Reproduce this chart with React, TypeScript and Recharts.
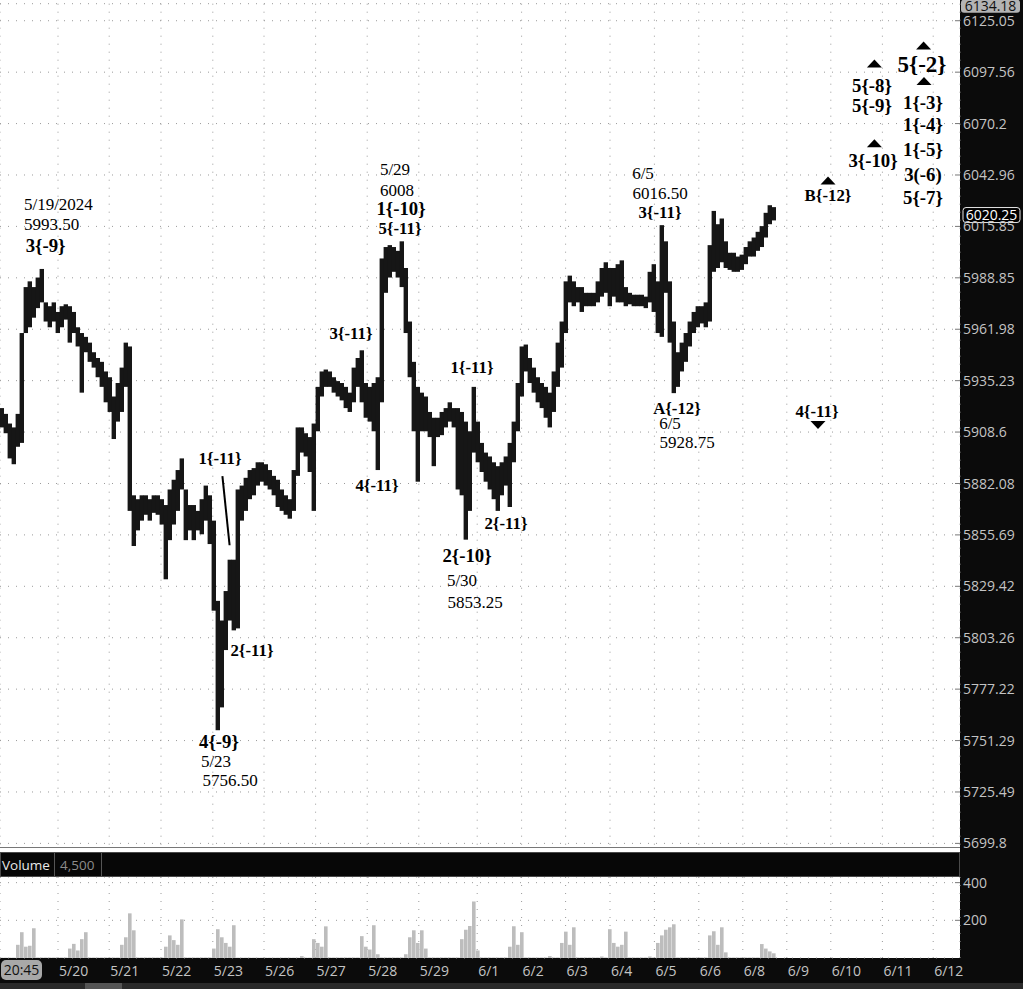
import React from "react";
import {
  ComposedChart,
  Bar,
  XAxis,
  YAxis,
  CartesianGrid,
  ReferenceDot,
  ReferenceLine,
} from "recharts";

// day boundaries on the bar-index axis
const DAYS = ["5/20", "5/21", "5/22", "5/23", "5/26", "5/27", "5/28", "5/29", "6/1", "6/2", "6/3", "6/4", "6/5", "6/6", "6/8", "6/9", "6/10", "6/11", "6/12"];
const DAY_POS = [14.5, 27.3, 40.25, 53.2, 66, 78.9, 91.8, 104.7, 119.3, 130.4, 141.4, 152.5, 163.6, 174.7, 185.7, 196.7, 207.7, 220.6, 233.3];

const PRICE_TICKS = [5699.8, 5725.49, 5751.29, 5777.22, 5803.26, 5829.42, 5855.69, 5882.08, 5908.6, 5935.23, 5961.98, 5988.85, 6015.85, 6042.96, 6070.2, 6097.56, 6125.05];
const PRICE_MIN = 5697.5;
const PRICE_TOP = 6134.18;
const LAST_PRICE = 6020.25;
const VOL_TICKS = [200, 400];

const HIGH = [
  5921, 5918, 5913, 5911, 5918, 5960, 5984, 5987, 5984, 5989,
  5993.5, 5976, 5974, 5976, 5971, 5974, 5975, 5974, 5971, 5963,
  5960, 5958, 5955, 5950, 5947, 5945, 5940, 5937, 5927, 5934,
  5942, 5955, 5953, 5876, 5874, 5876, 5876, 5874, 5876, 5876,
  5874, 5871, 5879, 5884, 5889, 5895, 5879, 5871, 5871, 5868,
  5874, 5881, 5876, 5863, 5822, 5812, 5827, 5843, 5843, 5879,
  5881, 5885, 5889, 5890, 5893, 5893, 5892, 5889, 5886, 5884,
  5879, 5876, 5874, 5889, 5911, 5911, 5908, 5906, 5913, 5932,
  5940, 5941, 5940, 5937, 5935, 5934, 5932, 5929, 5942, 5947,
  5951, 5934, 5932, 5934, 5937, 5999, 6005, 6006, 6005, 6003,
  6008, 5994, 5966, 5945, 5932, 5929, 5927, 5919, 5916, 5916,
  5919, 5921, 5924, 5921, 5921, 5919, 5914, 5909, 5932, 5914,
  5903, 5898, 5896, 5893, 5891, 5893, 5896, 5903, 5914, 5934,
  5953, 5954, 5947, 5942, 5937, 5934, 5932, 5929, 5940, 5955,
  5966, 5987, 5990, 5987, 5984, 5984, 5981, 5981, 5981, 5987,
  5994, 5997, 5994, 5994, 5996, 5998, 5984, 5981, 5980, 5980,
  5980, 5979, 5992, 5996, 5987, 6016.5, 6008, 5987, 5966, 5950,
  5955, 5960, 5966, 5971, 5974, 5974, 5976, 6006, 6024, 6017,
  6020, 6008, 6002, 6002, 6000, 6001, 6005, 6008, 6010, 6013,
  6016, 6023, 6027, 6026,
];

const LOW = [
  5911, 5908, 5895, 5892, 5901, 5903, 5960, 5963, 5968, 5973,
  5976, 5966, 5963, 5966, 5960, 5963, 5967, 5955, 5960, 5953,
  5929, 5950, 5945, 5942, 5937, 5932, 5924, 5919, 5905, 5914,
  5919, 5932, 5868, 5850, 5858, 5863, 5866, 5863, 5867, 5866,
  5861, 5833, 5853, 5861, 5868, 5879, 5853, 5858, 5853, 5858,
  5856, 5863, 5851, 5817, 5756.5, 5768, 5797, 5812, 5807, 5808,
  5863, 5868, 5874, 5876, 5881, 5883, 5881, 5879, 5876, 5870,
  5868, 5866, 5864, 5868, 5886, 5898, 5896, 5888, 5868, 5909,
  5927, 5932, 5932, 5929, 5927, 5925, 5921, 5919, 5924, 5932,
  5924, 5916, 5914, 5909, 5889, 5924, 5981, 5989, 5992, 5989,
  5984, 5960, 5937, 5909, 5883, 5909, 5909, 5906, 5891, 5906,
  5907, 5911, 5914, 5911, 5879, 5876, 5853.25, 5868, 5898, 5893,
  5888, 5883, 5879, 5874, 5868, 5876, 5881, 5870, 5893, 5909,
  5927, 5940, 5934, 5929, 5924, 5921, 5916, 5911, 5919, 5932,
  5942, 5960, 5976, 5974, 5976, 5971, 5974, 5974, 5974, 5976,
  5979, 5981, 5974, 5979, 5976, 5976, 5974, 5975, 5974, 5974,
  5974, 5973, 5976, 5971, 5960, 5958, 5981, 5955, 5928.75, 5932,
  5940, 5945, 5953, 5960, 5963, 5965, 5963, 5966, 5992, 5994,
  5997, 5994, 5993, 5992, 5992, 5993, 5996, 6000, 6000, 6003,
  6005, 6010, 6017, 6019,
];

const VOLUME = [
  2, 2, 2, 2, 70, 137, 60, 65, 158, 3,
  3, 3, 3, 3, 3, 3, 3, 50, 75, 40,
  100, 137, 3, 3, 3, 3, 3, 3, 3, 3,
  70, 110, 237, 147, 3, 3, 3, 3, 3, 3,
  3, 60, 120, 95, 70, 205, 3, 3, 3, 3,
  3, 3, 3, 50, 153, 110, 80, 60, 174, 2,
  2, 2, 2, 2, 2, 2, 2, 2, 2, 2,
  2, 2, 2, 2, 2, 10, 2, 2, 100, 80,
  60, 168, 3, 3, 3, 3, 3, 3, 3, 3,
  116, 60, 45, 174, 20, 3, 3, 3, 3, 3,
  3, 20, 110, 147, 80, 147, 50, 3, 3, 3,
  3, 3, 3, 3, 3, 100, 150, 170, 300, 40,
  3, 3, 3, 3, 3, 3, 3, 60, 168, 70,
  137, 3, 3, 3, 3, 3, 3, 10, 3, 3,
  80, 140, 70, 163, 3, 3, 3, 3, 3, 3,
  8, 3, 153, 80, 60, 70, 140, 3, 3, 3,
  3, 3, 8, 3, 80, 120, 150, 163, 179, 3,
  3, 3, 3, 3, 3, 3, 3, 120, 142, 70,
  163, 30, 3, 3, 3, 3, 3, 3, 3, 3,
  74, 50, 35, 25,
];

// wave labels: text, bar index, price
const NOTES: [string, number, number][] = [
  ["5/19/2024", 14.6, 6027.6],
  ["5993.50", 12.9, 6016.8],
  ["3{-9}", 11.4, 6006.0],
  ["1{-11}", 55.0, 5895.2],
  ["2{-11}", 63.0, 5797.0],
  ["4{-9}", 54.75, 5751.0],
  ["5/23", 54.0, 5740.9],
  ["5756.50", 57.5, 5731.4],
  ["5/29", 98.75, 6045.6],
  ["6008", 99.25, 6035.0],
  ["1{-10}", 100.25, 6025.5],
  ["5{-11}", 100, 6015.0],
  ["3{-11}", 87.75, 5960.0],
  ["4{-11}", 94.25, 5881.2],
  ["1{-11}", 118, 5942.3],
  ["2{-11}", 126.5, 5861.7],
  ["2{-10}", 116.75, 5845.3],
  ["5/30", 115.5, 5832.6],
  ["5853.25", 118.75, 5821.4],
  ["6/5", 160.75, 6044.0],
  ["6016.50", 165, 6033.4],
  ["3{-11}", 165, 6023.4],
  ["A{-12}", 169.25, 5921.0],
  ["6/5", 167.5, 5913.2],
  ["5928.75", 171.75, 5903.4],
  ["B{-12}", 207, 6032.0],
  ["4{-11}", 204.25, 5919.4],
  ["3{-10}", 218.25, 6050.5],
  ["5{-8}", 218, 6090.3],
  ["5{-9}", 218, 6080.0],
  ["5{-2}", 230.5, 6101.9],
  ["1{-3}", 230.75, 6081.4],
  ["1{-4}", 230.75, 6069.9],
  ["1{-5}", 230.75, 6056.6],
  ["3(-6)", 230.75, 6043.4],
  ["5{-7}", 230.75, 6031.0],
];

const MARKS_UP: [number, number][] = [
  [207, 6040.1],
  [218.6, 6059.7],
  [218.6, 6102.2],
  [230.9, 6111.8],
  [231, 6092.8],
];
const MARKS_DOWN: [number, number][] = [[204.5, 5912.2]];
const TREND_LINE = [
  { x: 55.6, y: 5885.9 },
  { x: 57.4, y: 5850.4 },
];

const data = HIGH.map((h, i) => ({ t: i + 0.5, range: [LOW[i], h], vol: VOLUME[i] }));

const AXIS_TEXT = "#c4c4c4";
const SANS = "'Open Sans', 'Noto Sans', sans-serif";
const SERIF = "'Liberation Serif', 'DejaVu Serif', serif";

function noteStyle(text: string) {
  const m = text.match(/[{(]-(\d+)[})]/);
  if (!m) return { size: 17, weight: 400 };
  const deg = Number(m[1]);
  return { size: deg <= 2 ? 23 : deg >= 11 ? 16.8 : 18.8, weight: 700 };
}

// range bar widened to close the gaps recharts leaves between adjacent bars
const PriceBar = (p: any) => {
  if (p.height == null || p.width == null) return null;
  const cx = p.x + p.width / 2;
  return <rect x={cx - 2.2} y={p.y} width={4.4} height={Math.max(p.height, 1)} fill="#161616" />;
};

const ScaleTick = (props: any) => {
  const { x, y, payload } = props;
  return (
    <g>
      <line x1={x - 5} x2={x} y1={y} y2={y} stroke="#777" />
      <text x={x + 3} y={y} dy="0.36em" fill={AXIS_TEXT} fontSize={14} fontFamily={SANS}>
        {payload.value}
      </text>
    </g>
  );
};

const DayTick = (props: any) => {
  const { x, y, payload } = props;
  const idx = DAY_POS.indexOf(payload.value);
  return (
    <text x={x + 1} y={y + 13} dy="0.36em" fill={AXIS_TEXT} fontSize={14} fontFamily={SANS}>
      {DAYS[idx]}
    </text>
  );
};

export default function App() {
  return (
    <div
      style={{
        position: "absolute",
        left: 0,
        top: 0,
        width: 1023,
        height: 989,
        background: "#fff",
        overflow: "hidden",
        fontFamily: SANS,
      }}
    >
      {/* right price scale panel */}
      <div style={{ position: "absolute", left: 960, top: 0, width: 63, height: 989, background: "#0b0b0b" }} />

      <div style={{ position: "absolute", left: 0, top: 0 }}>
        <ComposedChart width={1023} height={848} data={data} margin={{ top: 3.7, right: 0, bottom: 0, left: 0 }}>
          <CartesianGrid stroke="#9a9a9a" strokeDasharray="1 7" />
          <XAxis
            type="number"
            dataKey="t"
            domain={[0, 240]}
            ticks={DAY_POS}
            interval={0}
            allowDataOverflow
            hide
          />
          <YAxis
            orientation="right"
            scale="log"
            domain={[PRICE_MIN, PRICE_TOP]}
            ticks={PRICE_TICKS}
            interval={0}
            allowDataOverflow
            width={63}
            tickSize={0}
            tickMargin={0}
            tickLine={false}
            axisLine={false}
            tick={<ScaleTick />}
          />
          <Bar dataKey="range" fill="#161616" barSize={4} shape={<PriceBar />} isAnimationActive={false} />
          <ReferenceLine segment={TREND_LINE} stroke="#000" strokeWidth={2} ifOverflow="visible" />
          {NOTES.map(([text, x, y], i) => {
            const s = noteStyle(text);
            return (
              <ReferenceDot
                key={"n" + i}
                x={x}
                y={y}
                r={0}
                ifOverflow="visible"
                shape={(p: any) => (
                  <text
                    x={p.cx}
                    y={p.cy}
                    textAnchor="middle"
                    dominantBaseline="central"
                    fontFamily={SERIF}
                    fontSize={s.size}
                    fontWeight={s.weight}
                    fill="#000"
                  >
                    {text}
                  </text>
                )}
              />
            );
          })}
          {MARKS_UP.map(([x, y], i) => (
            <ReferenceDot
              key={"u" + i}
              x={x}
              y={y}
              r={0}
              ifOverflow="visible"
              shape={(p: any) => (
                <path d={`M${p.cx - 7.5},${p.cy + 4}L${p.cx},${p.cy - 4}L${p.cx + 7.5},${p.cy + 4}Z`} fill="#000" />
              )}
            />
          ))}
          {MARKS_DOWN.map(([x, y], i) => (
            <ReferenceDot
              key={"d" + i}
              x={x}
              y={y}
              r={0}
              ifOverflow="visible"
              shape={(p: any) => (
                <path d={`M${p.cx - 7.5},${p.cy - 4}L${p.cx},${p.cy + 4}L${p.cx + 7.5},${p.cy - 4}Z`} fill="#000" />
              )}
            />
          ))}
          <ReferenceDot
            x={240}
            y={PRICE_TOP}
            r={0}
            ifOverflow="visible"
            shape={(p: any) => (
              <g>
                <rect x={p.cx + 1} y={p.cy - 4} width={59} height={13} rx={3} fill="#b4b4b4" />
                <text x={p.cx + 30.5} y={p.cy + 2.5} dy="0.36em" textAnchor="middle" fontSize={14} fontFamily={SANS} fill="#111">
                  {PRICE_TOP}
                </text>
              </g>
            )}
          />
          <ReferenceDot
            x={240}
            y={LAST_PRICE}
            r={0}
            ifOverflow="visible"
            shape={(p: any) => (
              <g>
                <rect x={p.cx + 3} y={p.cy - 10.5} width={57} height={15} rx={3} fill="#000" stroke="#e6e6e6" />
                <text x={p.cx + 31.5} y={p.cy - 3} dy="0.36em" textAnchor="middle" fontSize={14} fontFamily={SANS} fill="#fff">
                  {LAST_PRICE}
                </text>
              </g>
            )}
          />
        </ComposedChart>
      </div>

      {/* panel separator and volume header */}
      <div style={{ position: "absolute", left: 0, top: 847, width: 960, height: 1, background: "#777" }} />
      <div
        style={{
          position: "absolute",
          left: 0,
          top: 852,
          width: 960,
          height: 25,
          background: "#070707",
          border: "1px solid #4a4a4a",
          boxSizing: "border-box",
        }}
      >
        <span style={{ position: "absolute", left: 1, top: 3, fontSize: 13.5, color: "#e8e8e8" }}>Volume</span>
        <div style={{ position: "absolute", left: 53, top: 0, width: 1, height: 23, background: "#555" }} />
        <span style={{ position: "absolute", left: 59, top: 3, fontSize: 13.5, color: "#8c8c8c" }}>4,500</span>
        <div style={{ position: "absolute", left: 100, top: 0, width: 1, height: 23, background: "#555" }} />
      </div>

      {/* time axis band */}
      <div style={{ position: "absolute", left: 0, top: 958, width: 1023, height: 31, background: "#0b0b0b" }} />
      <div style={{ position: "absolute", left: 0, top: 983, width: 1023, height: 6, background: "#2a2a2a" }} />
      <div style={{ position: "absolute", left: 85, top: 983, width: 37, height: 6, background: "#555" }} />

      <div style={{ position: "absolute", left: 0, top: 877 }}>
        <ComposedChart width={1023} height={108} data={data} margin={{ top: 0, right: 0, bottom: 0, left: 0 }}>
          <CartesianGrid stroke="#9a9a9a" strokeDasharray="1 7" />
          <XAxis
            type="number"
            dataKey="t"
            domain={[0, 240]}
            ticks={DAY_POS}
            interval={0}
            allowDataOverflow
            height={27}
            tickSize={0}
            tickMargin={0}
            tickLine={false}
            axisLine={false}
            tick={<DayTick />}
          />
          <YAxis
            orientation="right"
            domain={[0, 430]}
            ticks={VOL_TICKS}
            interval={0}
            allowDataOverflow
            width={63}
            tickSize={0}
            tickMargin={0}
            tickLine={false}
            axisLine={false}
            tick={<ScaleTick />}
          />
          <Bar dataKey="vol" fill="#bdbdbd" barSize={4} isAnimationActive={false} />
        </ComposedChart>
      </div>

      <div
        style={{
          position: "absolute",
          left: 1,
          top: 960,
          width: 41,
          height: 20,
          lineHeight: "20px",
          borderRadius: 5,
          background: "#a8a8a8",
          color: "#111",
          fontSize: 14,
          textAlign: "center",
        }}
      >
        20:45
      </div>
    </div>
  );
}
